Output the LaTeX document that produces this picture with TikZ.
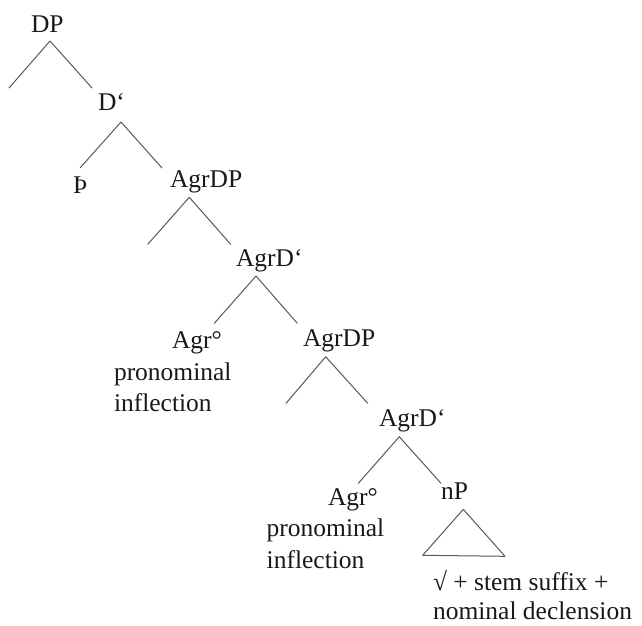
\documentclass[tikz,border=0pt]{standalone}
\usepackage{fontspec}
\setmainfont{Liberation Serif}
\begin{document}
\begin{tikzpicture}[x=1pt,y=-1pt,
  lbl/.style={anchor=base west,inner sep=0pt,outer sep=0pt,font=\fontsize{25.5pt}{31pt}\selectfont,text=black!90},
  branch/.style={draw=black!65,line width=1pt,line cap=round,line join=round}]
\useasboundingbox (0,0) rectangle (642,625);
% labels
\node[lbl] (dp) at (31,32) {DP};
\node[lbl] (dbar) at (98,110) {D‘};
\node[lbl] (thorn) at (73,193) {Þ};
\node[lbl] (agrdpA) at (170,187) {AgrDP};
\node[lbl] (agrdbarA) at (236,266.5) {AgrD‘};
\node[lbl] (agrA) at (172,348.5) {Agr°};
\node[lbl] (pronA) at (114,380) {pronominal};
\node[lbl] (inflA) at (114,411.7) {inflection};
\node[lbl] (agrdpB) at (303,346.5) {AgrDP};
\node[lbl] (agrdbarB) at (379,426) {AgrD‘};
\node[lbl] (agrB) at (328,505.5) {Agr°};
\node[lbl] (pronB) at (266.7,536.7) {pronominal};
\node[lbl] (inflB) at (266.7,568) {inflection};
\node[lbl] (np) at (441,499.5) {nP};
\node[lbl] (rootA) at (433,590) {√ + stem suffix +};
\node[lbl] (rootB) at (433,619.5) {nominal declension};
% branch points
\coordinate (dpT) at (50,41);   \coordinate (dpL) at (9,88);      \coordinate (dpR) at (92,88);
\coordinate (dbT) at (121,122); \coordinate (dbL) at (80,168);    \coordinate (dbR) at (162,168);
\coordinate (aT) at (189.3,197.3); \coordinate (aL) at (147.7,244.3); \coordinate (aR) at (230.7,244.3);
\coordinate (bT) at (256,276);  \coordinate (bL) at (214.3,323.3); \coordinate (bR) at (297.3,323.3);
\coordinate (cT) at (325.7,356.7); \coordinate (cL) at (286,403.3); \coordinate (cR) at (367.7,403.3);
\coordinate (eT) at (399.3,436.7); \coordinate (eL) at (358.3,483.3); \coordinate (eR) at (441,483.3);
\coordinate (tT) at (463.3,509.3); \coordinate (tL) at (422.7,555.3); \coordinate (tR) at (505,556.3);
% branches
\draw[branch] (dpL) -- (dpT) -- (dpR);
\draw[branch] (dbL) -- (dbT) -- (dbR);
\draw[branch] (aL) -- (aT) -- (aR);
\draw[branch] (bL) -- (bT) -- (bR);
\draw[branch] (cL) -- (cT) -- (cR);
\draw[branch] (eL) -- (eT) -- (eR);
\draw[branch] (tT) -- (tL) -- (tR) -- cycle;
\end{tikzpicture}
\end{document}
